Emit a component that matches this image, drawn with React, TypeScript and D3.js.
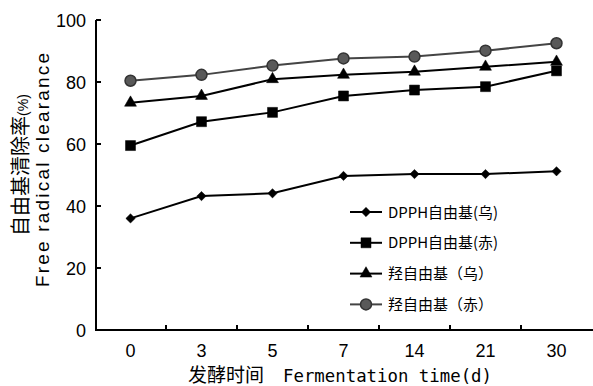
import React, { useEffect, useRef } from 'react';
import * as d3 from 'd3';

// fermentation days (x categories)
const days = ['0', '3', '5', '7', '14', '21', '30'];
const yTicks = [0, 20, 40, 60, 80, 100];

// free radical clearance (%)
const dpphWu = [36.0, 43.2, 44.1, 49.7, 50.3, 50.3, 51.2];
const dpphChi = [59.5, 67.2, 70.2, 75.5, 77.4, 78.5, 83.6];
const hydroxylWu = [73.3, 75.5, 80.9, 82.3, 83.3, 84.9, 86.5];
const hydroxylChi = [80.4, 82.3, 85.3, 87.6, 88.2, 90.1, 92.5];

const seriesNames = ['DPPH自由基(乌)', 'DPPH自由基(赤)', '羟自由基（乌）', '羟自由基（赤）'];

const CJK = '"Noto Sans CJK SC", sans-serif';
const SANS = '"Liberation Sans", Arial, sans-serif';
const MONO = '"DejaVu Sans Mono", monospace';

const App = () => {
    const ref = useRef<SVGSVGElement>(null);

    useEffect(() => {
        const svg = d3.select(ref.current);
        svg.selectAll('*').remove();

        const x = d3.scaleBand().domain(days).range([95, 592]).padding(0);
        const y = d3.scaleLinear().domain([0, 100]).range([330, 20]);
        const cx = (d: string) => (x(d) as number) + x.bandwidth() / 2;

        const series = [
            { name: seriesNames[0], values: dpphWu, shape: 'diamond', line: '#000', fill: '#000', stroke: '#000' },
            { name: seriesNames[1], values: dpphChi, shape: 'square', line: '#000', fill: '#000', stroke: '#000' },
            { name: seriesNames[2], values: hydroxylWu, shape: 'triangle', line: '#000', fill: '#000', stroke: '#000' },
            { name: seriesNames[3], values: hydroxylChi, shape: 'circle', line: '#444', fill: '#595959', stroke: '#333' },
        ];

        const symbolFor = (shape: string) => {
            if (shape === 'diamond') return d3.symbol().type(d3.symbolDiamond2).size(55)();
            if (shape === 'square') return d3.symbol().type(d3.symbolSquare).size(100)();
            if (shape === 'triangle') return d3.symbol().type(d3.symbolTriangle).size(62)();
            return d3.symbol().type(d3.symbolCircle).size(95)();
        };

        // lines + markers
        const line = d3.line<number>().x((d, i) => cx(days[i])).y(d => y(d));
        series.forEach(s => {
            svg.append('path')
                .attr('d', line(s.values))
                .attr('fill', 'none')
                .attr('stroke', s.line)
                .attr('stroke-width', 2);
            svg.selectAll(null)
                .data(s.values)
                .enter()
                .append('path')
                .attr('d', symbolFor(s.shape))
                .attr('transform', (d, i) => `translate(${cx(days[i])},${y(d)})`)
                .attr('fill', s.fill)
                .attr('stroke', s.stroke)
                .attr('stroke-width', s.shape === 'circle' ? 1.5 : 0.5);
        });

        // axes
        const axis = svg.append('g').attr('stroke', '#000').attr('stroke-width', 2);
        axis.append('line').attr('x1', 96).attr('x2', 96).attr('y1', y(100)).attr('y2', y(0) + 1);
        axis.append('line').attr('x1', 95).attr('x2', 593).attr('y1', y(0)).attr('y2', y(0));
        axis.selectAll(null).data(yTicks).enter().append('line')
            .attr('x1', 96).attr('x2', 101).attr('y1', d => y(d)).attr('y2', d => y(d));
        axis.selectAll(null).data(days.slice(1)).enter().append('line')
            .attr('x1', d => x(d) as number).attr('x2', d => x(d) as number)
            .attr('y1', y(0)).attr('y2', y(0) - 5);

        svg.selectAll(null).data(yTicks).enter().append('text')
            .attr('x', 86).attr('y', d => y(d) + 6.5)
            .attr('text-anchor', 'end')
            .style('font-family', SANS).style('font-size', '18px')
            .text(d => d);

        svg.selectAll(null).data(days).enter().append('text')
            .attr('x', d => cx(d)).attr('y', 357)
            .attr('text-anchor', 'middle')
            .style('font-family', SANS).style('font-size', '18px')
            .text(d => d);

        // axis titles
        const xt = svg.append('text').attr('x', 188).attr('y', 382);
        xt.append('tspan').style('font-family', CJK).style('font-size', '19px').text('发酵时间');
        xt.append('tspan').attr('x', 283).style('font-family', MONO).style('font-size', '17px')
            .attr('textLength', 209).attr('lengthAdjust', 'spacingAndGlyphs').text('Fermentation time(d)');

        const yt1 = svg.append('text')
            .attr('transform', 'translate(28,165) rotate(-90)')
            .attr('text-anchor', 'middle');
        yt1.append('tspan').style('font-family', CJK).style('font-size', '20px').text('自由基清除率');
        yt1.append('tspan').style('font-family', SANS).style('font-size', '14px').text('(%)');

        svg.append('text')
            .attr('transform', 'translate(49,170) rotate(-90)')
            .attr('text-anchor', 'middle')
            .attr('textLength', 234).attr('lengthAdjust', 'spacing')
            .style('font-family', SANS).style('font-size', '19px')
            .text('Free radical clearance');

        // legend
        const lg = svg.append('g');
        series.forEach((s, i) => {
            const ly = 212 + i * 30.8;
            lg.append('line').attr('x1', 350).attr('x2', 382).attr('y1', ly).attr('y2', ly)
                .attr('stroke', s.line).attr('stroke-width', 2);
            lg.append('path').attr('d', symbolFor(s.shape))
                .attr('transform', `translate(366,${ly})`)
                .attr('fill', s.fill).attr('stroke', s.stroke)
                .attr('stroke-width', s.shape === 'circle' ? 1.5 : 0.5);
            lg.append('text').attr('x', 388).attr('y', ly + 5.5)
                .attr('textLength', i < 2 ? 110 : 105).attr('lengthAdjust', 'spacingAndGlyphs')
                .style('font-family', CJK).style('font-size', '15px')
                .text(s.name);
        });
    }, []);

    return (
        <svg ref={ref} width={593} height={386}
            style={{ position: 'absolute', left: 0, top: 0, background: '#fff' }} />
    );
};

export default App;
